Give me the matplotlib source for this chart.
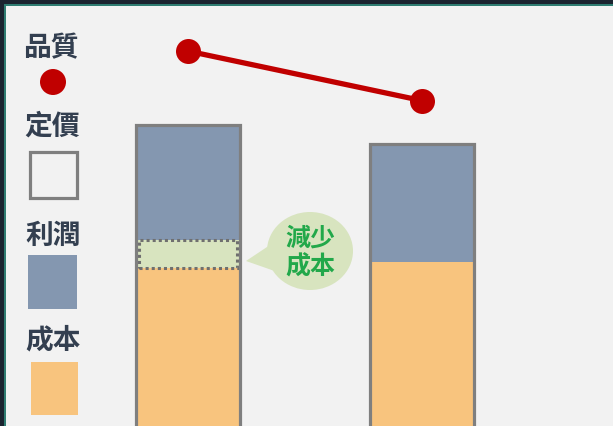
import matplotlib
matplotlib.use("Agg")
import matplotlib.pyplot as plt
from matplotlib.patches import Rectangle, Ellipse, Polygon
import numpy as np

plt.rcParams['font.family'] = ['Noto Sans CJK TC', 'DejaVu Sans']

# ---- data ----
categories = ["現在", "之後"]
cost = [54, 56]          # 成本
cost_cut = [9, 0]        # 減少成本
price = [100, 94]        # 定價
quality = [124, 108]     # 品質
legend_labels = ["品質", "定價", "利潤", "成本"]
bubble_text = "減少\n成本"

profit = [p - c - k for p, c, k in zip(price, cost, cost_cut)]

# ---- style ----
BG = "#f2f2f2"
BLUE = "#8497b0"
ORANGE = "#f8c47e"
GREEN_FILL = "#d8e4bf"
RED = "#c00000"
EDGE = "#7f7f7f"
TEXT = "#333f50"
GREEN_TXT = "#22a84a"

W, H = 613, 427
fig = plt.figure(figsize=(W / 100, H / 100), dpi=100, facecolor=BG)
ax = fig.add_axes([0, 0, 1, 1])
ax.set_facecolor(BG)
ax.axis("off")

x = np.arange(len(categories))
bar_w = 0.444
ax.set_xlim(-0.803, 1.816)
ax.set_ylim(3, 140.8)

# stacked bars
ax.bar(x, cost, bar_w, color=ORANGE, linewidth=0, zorder=2)
ax.bar(x, cost_cut, bar_w, bottom=cost, color=GREEN_FILL, linewidth=0, zorder=2)
ax.bar(x, profit, bar_w, bottom=np.array(cost) + np.array(cost_cut),
       color=BLUE, linewidth=0, zorder=2)
# outline of the price (total)
ax.bar(x, price, bar_w, fill=False, edgecolor=EDGE, linewidth=2.3, zorder=4)

# dotted box for the cost reduction
inset = 0.014
for xi, c, k in zip(x, cost, cost_cut):
    if k > 0:
        ax.add_patch(Rectangle((xi - bar_w / 2 + inset, c), bar_w - 2 * inset, k,
                               facecolor="none", edgecolor="#6f6f6f",
                               linewidth=2.2, linestyle=(0, (1, 1)), zorder=3))

# quality line
ax.plot(x, quality, color=RED, linewidth=3.8, marker="o", markersize=18,
        markeredgewidth=0, zorder=5, solid_capstyle="round")

# ---- speech bubble ----
def fx(px):
    return px / W

def fy(py):
    return 1 - py / H

tf = fig.transFigure
fig.patches.append(Polygon([(fx(246), fy(262)), (fx(282), fy(238)), (fx(286), fy(276))],
                           closed=True, facecolor=GREEN_FILL, edgecolor="none",
                           transform=tf, zorder=1))
fig.patches.append(Ellipse((fx(310), fy(252)), 86 / W, 78 / H,
                           facecolor=GREEN_FILL, edgecolor="none", transform=tf, zorder=1))
fig.text(fx(310), fy(253), bubble_text, ha="center", va="center", color=GREEN_TXT,
         fontsize=18, fontweight="bold", linespacing=1.2, zorder=6)

# ---- legend (manual, stacked vertically) ----
fig.text(fx(51), fy(48), legend_labels[0], ha="center", va="center",
         color=TEXT, fontsize=20, fontweight="bold")
fig.patches.append(Ellipse((fx(53), fy(83)), 26 / W, 26 / H, facecolor=RED,
                           edgecolor="none", transform=tf))
fig.text(fx(52), fy(127), legend_labels[1], ha="center", va="center",
         color=TEXT, fontsize=20, fontweight="bold")
fig.patches.append(Rectangle((fx(30), fy(199)), 47 / W, 46 / H, facecolor=BG,
                             edgecolor=EDGE, linewidth=2.3, transform=tf))
fig.text(fx(53), fy(236), legend_labels[2], ha="center", va="center",
         color=TEXT, fontsize=20, fontweight="bold")
fig.patches.append(Rectangle((fx(28), fy(310)), 49 / W, 54 / H, facecolor=BLUE,
                             edgecolor="none", transform=tf))
fig.text(fx(53), fy(340), legend_labels[3], ha="center", va="center",
         color=TEXT, fontsize=20, fontweight="bold")
fig.patches.append(Rectangle((fx(31), fy(416)), 47 / W, 53 / H, facecolor=ORANGE,
                             edgecolor="none", transform=tf))

# ---- frame (dark top / left band with teal line) ----
fig.patches.append(Rectangle((0, fy(5)), 1, 5 / H, facecolor="#1b2430",
                             edgecolor="none", transform=tf, zorder=10))
fig.patches.append(Rectangle((fx(5), fy(6.5)), 1, 1.5 / H, facecolor="#2f7d72",
                             edgecolor="none", transform=tf, zorder=10))
fig.patches.append(Rectangle((0, 0), 4 / W, 1, facecolor="#1b2430",
                             edgecolor="none", transform=tf, zorder=10))
fig.patches.append(Rectangle((fx(4), 0), 1.5 / W, fy(5), facecolor="#2f7d72",
                             edgecolor="none", transform=tf, zorder=10))

fig.savefig("out.png", dpi=100, facecolor=BG)
